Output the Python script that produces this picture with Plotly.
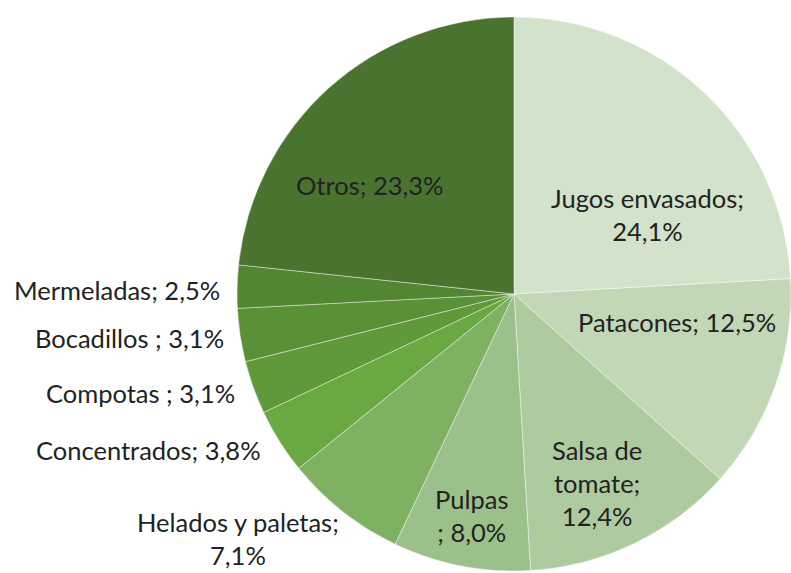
import plotly.graph_objects as go

W, H = 791, 573

categories = ["Jugos envasados", "Patacones", "Salsa de tomate", "Pulpas",
              "Helados y paletas", "Concentrados", "Compotas", "Bocadillos",
              "Mermeladas", "Otros"]
values = [24.1, 12.5, 12.4, 8.0, 7.1, 3.8, 3.1, 3.1, 2.5, 23.3]
label_text = ["Jugos envasados;<br>", "Patacones; ", "Salsa de<br>tomate;<br>",
              "Pulpas<br>; ", "Helados y paletas;<br>", "Concentrados; ",
              "Compotas ; ", "Bocadillos ; ", "Mermeladas; ", "Otros; "]
colors = ["#d3e2cb", "#c1d7b5", "#aecba0", "#9cc089", "#7fb162", "#6aa842",
          "#60993a", "#5a9036", "#538633", "#4a7330"]

# label anchor points in pixels (x, y) and horizontal alignment
label_pos = [(647, 214, "center"), (677, 322, "center"), (597, 483, "center"),
             (472, 515, "center"), (238, 538, "center"), (263, 450, "right"),
             (237, 393, "right"), (226, 338, "right"), (222, 290, "right"),
             (370, 185, "center")]

cx, cy, r = 514, 294, 277

fig = go.Figure(go.Pie(
    labels=categories, values=values, sort=False, direction="clockwise",
    rotation=0, textinfo="none", hoverinfo="label+percent",
    marker=dict(colors=colors, line=dict(color="rgba(255,255,255,0.6)", width=0.7)),
    domain=dict(x=[(cx - r) / W, min(1, (cx + r) / W)],
                y=[max(0, (H - cy - r) / H), (H - cy + r) / H]),
    showlegend=False,
))

font = dict(family="Lato, 'Open Sans', sans-serif", size=25.5, color="#222222")
for lab, v, (px, py, al) in zip(label_text, values, label_pos):
    txt = lab + f"{v:.1f}".replace(".", ",") + "%"
    fig.add_annotation(
        x=px / W, y=1 - py / H, xref="paper", yref="paper", text=txt,
        showarrow=False, font=font, align="center",
        xanchor=al, yanchor="middle",
    )

fig.update_layout(width=W, height=H, margin=dict(l=0, r=0, t=0, b=0),
                  paper_bgcolor="white", plot_bgcolor="white")
fig.write_html("out.html", config={"displayModeBar": False},
               post_script="document.body.style.margin='0';")
